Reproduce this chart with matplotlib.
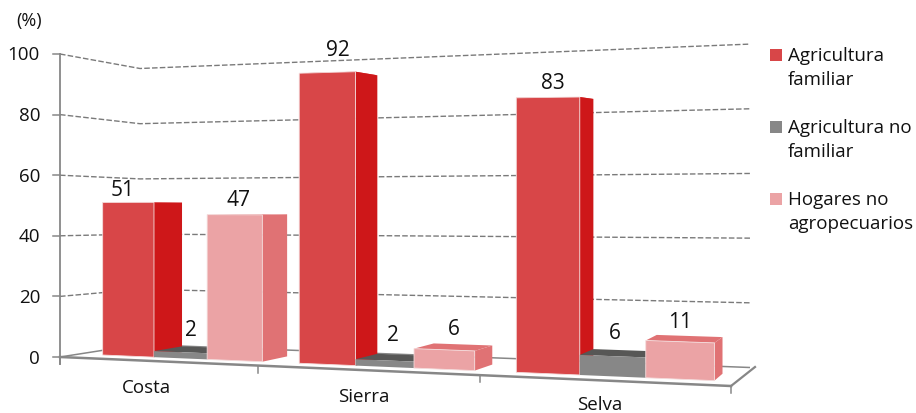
import numpy as np
import matplotlib
matplotlib.use("Agg")
import matplotlib.pyplot as plt
from matplotlib.patches import Polygon, Rectangle

plt.rcParams['font.family'] = ['Open Sans', 'DejaVu Sans']

categories = ['Costa', 'Sierra', 'Selva']
series_names = ['Agricultura\nfamiliar', 'Agricultura no\nfamiliar', 'Hogares no\nagropecuarios']
agricultura_familiar = [51, 92, 83]
agricultura_no_familiar = [2, 2, 6]
hogares_no_agropecuarios = [47, 6, 11]
y_ticks = [0, 20, 40, 60, 80, 100]

series_values = [agricultura_familiar, agricultura_no_familiar, hogares_no_agropecuarios]
face_colors = ['#D84648', '#878787', '#EBA3A5']
side_colors = ['#CE1719', '#6f6f6f', '#E07274']
top_colors = ['#D84648', '#575756', '#E07274']

# floor plane: corners (u, depth) -> pixels through a homography
n_cat = len(categories)
src = [(0, 0), (n_cat, 0), (n_cat, 1), (0, 1)]
dst = [(60, 357), (731, 386), (750, 367.5), (140, 344.5)]
A, b = [], []
for (u, d), (x, y) in zip(src, dst):
    A.append([u, d, 1, 0, 0, 0, -u * x, -d * x]); b.append(x)
    A.append([0, 0, 0, u, d, 1, -u * y, -d * y]); b.append(y)
h = np.linalg.solve(np.array(A, float), np.array(b, float))
H = np.array([[h[0], h[1], h[2]], [h[3], h[4], h[5]], [h[6], h[7], 1.0]])


def height_scale(u, d):
    return 3.03 + 0.158 * u - 0.27 * d


def project(u, d, z=0.0):
    X, Y, W = H @ np.array([u, d, 1.0])
    return X / W, Y / W - height_scale(u, d) * z


def front_tick(u):
    x = (60 + 184 * u) / (1 - 0.0543 * u)
    return x, 357 + (386 - 357) * (x - 60) / (731 - 60)


fig = plt.figure(figsize=(9.16, 4.13), dpi=100)
ax = fig.add_axes([0, 0, 1, 1])
ax.set_xlim(0, 916)
ax.set_ylim(413, 0)
ax.axis('off')

AXC = '#878787'
GRID = '#7a7a7a'
TXT = '#111111'

# gridlines on the left and back walls
for t in y_ticks[1:]:
    pts = [project(0, 0, t), project(0, 1, t), project(n_cat, 1, t)]
    ax.plot(*zip(*pts), color=GRID, lw=1.0, ls=(0, (4, 1.6)), zorder=1)

# floor
fr = project(n_cat, 0)
back_pts = [project(0, 0), project(0, 1), project(n_cat, 1)]
ax.plot(*zip(*back_pts), color=AXC, lw=1.1, zorder=1.5, solid_capstyle='butt')
ext_x, ext_y = project(n_cat, 1)
ax.plot([fr[0], ext_x + 5], [fr[1], ext_y - 0.5], color=AXC, lw=1.6, zorder=1.5)
ax.plot([60, fr[0]], [357, fr[1]], color=AXC, lw=1.8, zorder=1.5)

# value axis and ticks
x0, y0 = project(0, 0)
ax.plot([x0, x0], [project(0, 0, 100)[1], y0 + 7], color=AXC, lw=1.3, zorder=1.5)
for t in y_ticks:
    tx, ty = project(0, 0, t)
    ax.plot([tx - 7, tx], [ty, ty], color=AXC, lw=1.1, zorder=1.5)
    ax.text(tx - 20, ty + 1.5, str(t), ha='right', va='center', fontsize=13.5, color=TXT)
ax.text(16, 21, '(%)', ha='left', va='center', fontsize=13, color=TXT)
for i in range(n_cat + 1):
    tx, ty = front_tick(i)
    ax.plot([tx, tx], [ty, ty + 7], color=AXC, lw=1.1, zorder=1.5)

# bars
GAP = [0.132, 0.150, 0.132]
BAR_W = [0.279, 0.268, 0.263]
D0, D1 = 0.22, 0.59
LABEL_DX = [[-6, 10, 5], [10, 8, 2], [4, 9, 0]]
LABEL_DY = [[-11.5, -21, -14], [-16, -18, -15.7], [-14, -14, -12]]
for c in range(n_cat):
    for s, vals in enumerate(series_values):
        v = vals[c]
        u0 = c + GAP[c] + s * BAR_W[c]
        u1 = u0 + BAR_W[c]
        top = [project(u0, D0, v), project(u1, D0, v), project(u1, D1, v), project(u0, D1, v)]
        side = [project(u1, D0, 0), project(u1, D1, 0), project(u1, D1, v), project(u1, D0, v)]
        front = [project(u0, D0, 0), project(u1, D0, 0), project(u1, D0, v), project(u0, D0, v)]
        base = 3 + c + s * 0.1
        ax.add_patch(Polygon(top, closed=True, fc=top_colors[s], ec='none', zorder=base))
        ax.add_patch(Polygon(side, closed=True, fc=side_colors[s], ec='none', zorder=base + 0.01))
        ax.add_patch(Polygon(front, closed=True, fc=face_colors[s], ec='#f4dcdc' if s != 1 else 'none',
                             lw=0.6, zorder=base + 0.02))
        lx = (front[2][0] + front[3][0]) / 2 + LABEL_DX[s][c]
        ly = min(p[1] for p in top)
        ax.text(lx, ly + LABEL_DY[s][c], str(v), ha='center', va='center', fontsize=15, color=TXT, zorder=10)

# category labels
LABEL_U = [0.466, 0.517, 0.508]
LABEL_Y = [27.5, 26.5, 24.5]
for c, name in enumerate(categories):
    tx, ty = project(c + LABEL_U[c], 0)
    ax.text(tx, ty + LABEL_Y[c], name, ha='center', va='center', fontsize=13.5, color=TXT)

# legend
legend_y = [49, 121, 193]
for name, col, ly in zip(series_names, face_colors, legend_y):
    ax.add_patch(Rectangle((770, ly), 12, 12, fc=col, ec='none'))
    ax.text(788, ly - 2, name, ha='left', va='top', fontsize=13.5, color=TXT, linespacing=1.43)

fig.savefig('out.png', dpi=100)
